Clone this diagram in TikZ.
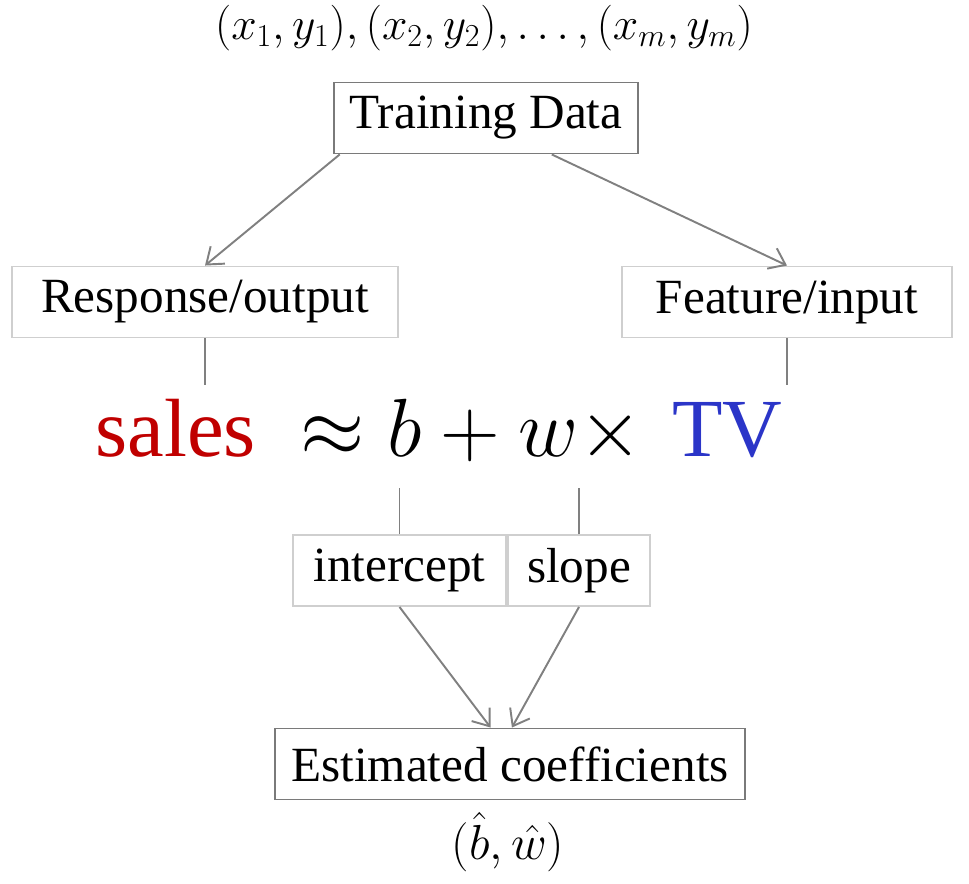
\RequirePackage{fix-cm}
\documentclass[tikz,border=0pt]{standalone}
\usepackage{fontspec}
\setmainfont{Liberation Serif}
\usepackage{amsmath}
\usetikzlibrary{arrows.meta}
\definecolor{salesred}{HTML}{C00000}
\definecolor{tvblue}{HTML}{2B35C8}
\definecolor{boxgray}{HTML}{7A7A7A}
\definecolor{boxlight}{HTML}{CFCFCF}
\definecolor{linegray}{HTML}{808080}

\begin{document}
\begin{tikzpicture}[x=0.02cm, y=-0.02cm,
  every node/.style={font=\fontsize{28}{34}\selectfont, inner sep=0pt},
  darkbox/.style={draw=boxgray, line width=1.1pt, minimum height=1.42cm, inner xsep=0.32cm},
  lightbox/.style={draw=boxlight, line width=1.1pt, minimum height=1.42cm, inner xsep=0.32cm},
  flow/.style={draw=linegray, line width=1.1pt, -{Straight Barb[length=0.3cm, width=0.45cm]}},
  link/.style={draw=linegray, line width=1.1pt},
  big/.style={font=\fontsize{47}{56}\selectfont},
  formula/.style={font=\fontsize{26}{32}\selectfont}]
  \useasboundingbox (0,0) rectangle (969,884);
  % Training data
  \node[formula, anchor=base] (pairs) at (484,40) {$(x_1, y_1), (x_2, y_2), \ldots, (x_m, y_m)$};
  \node[darkbox] (train) at (486,118) {Training Data};
  % Response and feature
  \node[lightbox, minimum width=7.72cm] (resp) at (205,302) {Response/output};
  \node[lightbox, minimum width=6.6cm] (feat) at (787,302) {Feature/input};
  \draw[flow] (train.194) -- (resp.north);
  \draw[flow] (train.-29) -- (feat.north);
  % The model
  \node[big, text=salesred, anchor=base west] (sales) at (95,457) {sales};
  \node[big, anchor=base west] (rhs) at (300,457) {$\approx b + w \times$};
  \node[big, text=tvblue, anchor=base west] (tv) at (672,457) {TV};
  \coordinate (salestop) at (205,385);
  \coordinate (tvtop) at (787,385);
  \draw[link] (resp.south) -- (salestop);
  \draw[link] (feat.south) -- (tvtop);
  % Coefficients
  \node[lightbox, minimum width=4.26cm] (icpt) at (399.5,570.5) {intercept};
  \node[lightbox, minimum width=2.84cm] (slope) at (579,570.5) {slope};
  \coordinate (bbot) at (399.5,488);
  \coordinate (wbot) at (579,488);
  \draw[link] (icpt.north) -- (bbot);
  \draw[link] (slope.north) -- (wbot);
  \node[darkbox] (est) at (510,764) {Estimated coefficients};
  \node[anchor=base] (coef) at (508,859) {$(\hat{b}, \hat{w})$};
  \draw[flow] (icpt.south) -- (est.118);
  \draw[flow] (slope.south) -- (est.87);
\end{tikzpicture}
\end{document}
